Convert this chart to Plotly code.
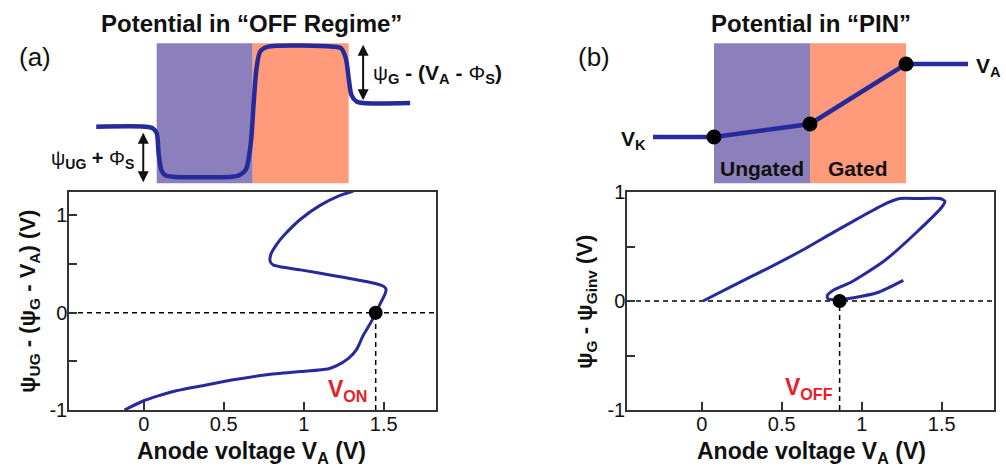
import plotly.graph_objects as go

# ---------------- data ----------------
# (a) psi_UG - (psi_G - V_A) vs anode voltage
va_a = [-0.12, 0.0, 0.09, 0.185, 0.35, 0.56, 0.77, 0.98, 1.15, 1.20, 1.28, 1.33, 1.37, 1.42, 1.45,
        1.49, 1.51, 1.515, 1.50, 1.47, 1.39, 1.19, 0.98, 0.86, 0.81, 0.79, 0.795, 0.83, 0.88, 0.98,
        1.10, 1.22, 1.31]
psi_a = [-1.0, -0.905, -0.855, -0.81, -0.756, -0.69, -0.638, -0.605, -0.578, -0.55, -0.47, -0.38,
         -0.24, -0.1, 0.0, 0.13, 0.2, 0.24, 0.27, 0.29, 0.32, 0.38, 0.44, 0.47, 0.49, 0.53, 0.60,
         0.70, 0.80, 0.96, 1.10, 1.20, 1.25]
v_on = 1.45

# (b) psi_G - psi_Ginv vs anode voltage
va_b = [0.008, 0.2, 0.41, 0.62, 0.82, 1.03, 1.16, 1.24, 1.35, 1.49, 1.52, 1.50, 1.35, 1.14, 0.93,
        0.83, 0.785, 0.79, 0.82, 0.87, 0.95, 1.10, 1.26]
psi_b = [0.0, 0.144, 0.297, 0.459, 0.627, 0.80, 0.90, 0.94, 0.94, 0.94, 0.915, 0.86, 0.64, 0.367,
         0.17, 0.105, 0.05, 0.02, 0.012, 0.015, 0.03, 0.078, 0.19]
v_off = 0.862

# schematic potentials (position in region units: ungated 0-1, gated 1-2)
pos_off = [-0.63, -0.12, -0.04, 0.0, 0.02, 0.05, 0.09, 0.17, 0.78, 0.86, 0.93, 0.98, 1.01, 1.04,
           1.08, 1.16, 1.84, 1.92, 1.97, 2.0, 2.03, 2.08, 2.15, 2.64]
pot_off = [0.566, 0.566, 0.55, 0.50, 0.30, 0.13, 0.08, 0.066, 0.066, 0.08, 0.14, 0.40, 0.80, 1.15,
           1.32, 1.366, 1.366, 1.35, 1.25, 1.05, 0.88, 0.82, 0.803, 0.803]
pos_pin = [-0.635, 0.0, 1.0, 2.0, 2.646]
pot_pin = [0.463, 0.463, 0.593, 1.193, 1.193]
pin_nodes = [1, 2, 3]
region_edges = [0.0, 1.0, 2.0]
region_height = 1.4

x_ticks = [0, 0.5, 1, 1.5]
x_ticktext = ["0", "0.5", "1", "1.5"]
y_ticks = [-1, 0, 1]
y_ticktext = ["-1", "0", "1"]
y_minor_ticks = [-0.5, 0.5]

# ---------------- style ----------------
W, H = 1006, 468
BLUE = "#262A9B"
PURPLE = "#8B7FBC"
ORANGE = "#FF9A7B"
RED = "#E8202A"
FONT = "Liberation Sans, Arial, sans-serif"


def px(x):
    return x / W


def py(y):
    return 1 - y / H


fig = go.Figure()

# bottom curves
fig.add_trace(go.Scatter(x=va_a, y=psi_a, mode="lines", line=dict(color=BLUE, width=3, shape="spline", smoothing=0.6),
                         xaxis="x", yaxis="y", hoverinfo="skip"))
fig.add_trace(go.Scatter(x=[v_on], y=[0], mode="markers", marker=dict(color="black", size=14),
                         xaxis="x", yaxis="y", hoverinfo="skip"))
fig.add_trace(go.Scatter(x=va_b, y=psi_b, mode="lines", line=dict(color=BLUE, width=3, shape="spline", smoothing=0.6),
                         xaxis="x2", yaxis="y2", hoverinfo="skip"))
fig.add_trace(go.Scatter(x=[v_off], y=[0], mode="markers", marker=dict(color="black", size=14),
                         xaxis="x2", yaxis="y2", hoverinfo="skip"))

# schematics
fig.add_trace(go.Scatter(x=pos_off, y=pot_off, mode="lines", line=dict(color=BLUE, width=4.5, shape="spline", smoothing=0.8),
                         xaxis="x3", yaxis="y3", hoverinfo="skip"))
fig.add_trace(go.Scatter(x=pos_pin, y=pot_pin, mode="lines", line=dict(color=BLUE, width=4.5),
                         xaxis="x4", yaxis="y4", hoverinfo="skip"))
fig.add_trace(go.Scatter(x=[pos_pin[i] for i in pin_nodes], y=[pot_pin[i] for i in pin_nodes], mode="markers",
                         marker=dict(color="black", size=15), xaxis="x4", yaxis="y4", hoverinfo="skip"))

shapes = []
for xr, yr in (("x3", "y3"), ("x4", "y4")):
    shapes.append(dict(type="rect", xref=xr, yref=yr, x0=region_edges[0], x1=region_edges[1], y0=0, y1=region_height,
                       fillcolor=PURPLE, line=dict(width=0), layer="below"))
    shapes.append(dict(type="rect", xref=xr, yref=yr, x0=region_edges[1], x1=region_edges[2], y0=0, y1=region_height,
                       fillcolor=ORANGE, line=dict(width=0), layer="below"))

dash = dict(color="black", width=1.5, dash="5px,4px")
for xr, yr, v in (("x", "y", v_on), ("x2", "y2", v_off)):
    shapes.append(dict(type="line", xref=xr + " domain", yref=yr, x0=0, x1=1, y0=0, y1=0, line=dash, layer="below"))
    shapes.append(dict(type="line", xref=xr, yref=yr, x0=v, x1=v, y0=-1, y1=0, line=dash, layer="below"))

TXT = "#111"
ann = []
ann.append(dict(text="<b>Potential in “OFF Regime”</b>", x=px(252), y=py(23), xref="paper", yref="paper",
                showarrow=False, font=dict(size=24, color=TXT), xanchor="center", yanchor="middle"))
ann.append(dict(text="<b>Potential in “PIN”</b>", x=px(811), y=py(23), xref="paper", yref="paper",
                showarrow=False, font=dict(size=24, color=TXT), xanchor="center", yanchor="middle"))
ann.append(dict(text="(a)", x=px(35), y=py(57), xref="paper", yref="paper", showarrow=False,
                font=dict(size=26, color=TXT), xanchor="center", yanchor="middle"))
ann.append(dict(text="(b)", x=px(594), y=py(57), xref="paper", yref="paper", showarrow=False,
                font=dict(size=26, color=TXT), xanchor="center", yanchor="middle"))

# axis titles
ann.append(dict(text="<b>Anode voltage V<sub>A</sub> (V)</b>", x=px(252), y=py(452), xref="paper", yref="paper",
                showarrow=False, font=dict(size=23, color=TXT), xanchor="center", yanchor="middle"))
ann.append(dict(text="<b>Anode voltage V<sub>A</sub> (V)</b>", x=px(811), y=py(452), xref="paper", yref="paper",
                showarrow=False, font=dict(size=23, color=TXT), xanchor="center", yanchor="middle"))
ann.append(dict(text="<b>ψ<sub>UG</sub> - (ψ<sub>G</sub> - V<sub>A</sub>) (V)</b>", x=px(29), y=py(302),
                xref="paper", yref="paper", showarrow=False, textangle=-90, font=dict(size=22, color=TXT),
                xanchor="center", yanchor="middle"))
ann.append(dict(text="<b>ψ<sub>G</sub> - ψ<sub>Ginv</sub> (V)</b>", x=px(586), y=py(302),
                xref="paper", yref="paper", showarrow=False, textangle=-90, font=dict(size=22, color=TXT),
                xanchor="center", yanchor="middle"))

# arrows in (a) schematic
ann.append(dict(x=-0.14, y=0.01, ax=-0.14, ay=0.52, xref="x3", yref="y3", axref="x3", ayref="y3", text="",
                showarrow=True, arrowhead=2, arrowside="end+start", arrowsize=1.1, arrowwidth=2, arrowcolor=TXT,
                standoff=0, startstandoff=0))
ann.append(dict(x=2.15, y=0.83, ax=2.15, ay=1.40, xref="x3", yref="y3", axref="x3", ayref="y3", text="",
                showarrow=True, arrowhead=2, arrowside="end+start", arrowsize=1.1, arrowwidth=2, arrowcolor=TXT,
                standoff=0, startstandoff=0))
ann.append(dict(text="ψ<sub><b>UG</b></sub><b> + </b>Φ<sub><b>S</b></sub>", x=-0.22, y=0.24, xref="x3", yref="y3",
                showarrow=False, xanchor="right", yanchor="middle", font=dict(size=20, color=TXT)))
ann.append(dict(text="ψ<sub><b>G</b></sub><b> - (V<sub>A</sub> - </b>Φ<sub><b>S</b></sub><b>)</b>", x=2.23, y=1.09,
                xref="x3", yref="y3", showarrow=False, xanchor="left", yanchor="middle",
                font=dict(size=21, color=TXT)))

# (b) schematic labels
ann.append(dict(text="<b>V<sub>K</sub></b>", x=pos_pin[0] - 0.05, y=pot_pin[0] - 0.03, xref="x4", yref="y4",
                showarrow=False, xanchor="right", yanchor="middle", font=dict(size=21, color=TXT)))
ann.append(dict(text="<b>V<sub>A</sub></b>", x=pos_pin[-1] + 0.06, y=pot_pin[-1] - 0.03, xref="x4", yref="y4",
                showarrow=False, xanchor="left", yanchor="middle", font=dict(size=21, color=TXT)))
ann.append(dict(text="<b>Ungated</b>", x=0.5, y=0.15, xref="x4", yref="y4", showarrow=False,
                font=dict(size=21, color=TXT)))
ann.append(dict(text="<b>Gated</b>", x=1.5, y=0.15, xref="x4", yref="y4", showarrow=False,
                font=dict(size=21, color=TXT)))

# V_ON / V_OFF labels
ann.append(dict(text="<b>V<sub>ON</sub></b>", x=v_on - 0.04, y=-0.8, xref="x", yref="y", showarrow=False,
                xanchor="right", yanchor="middle", font=dict(size=23, color=RED)))
ann.append(dict(text="<b>V<sub>OFF</sub></b>", x=v_off - 0.03, y=-0.8, xref="x2", yref="y2", showarrow=False,
                xanchor="right", yanchor="middle", font=dict(size=23, color=RED)))

x_common = dict(range=[-0.467, 1.827], tickvals=x_ticks, ticktext=x_ticktext, ticks="inside", ticklen=8,
                tickwidth=1.5, tickcolor="#333", showline=True, linecolor="#333", linewidth=1.5, mirror=True,
                showgrid=False, zeroline=False, tickfont=dict(size=20, color=TXT), ticklabelstandoff=-5,
                automargin=False)
y_common = dict(tickvals=y_ticks, ticktext=y_ticktext, ticks="inside", ticklen=8, tickwidth=1.5, tickcolor="#333",
                minor=dict(tickvals=y_minor_ticks, ticks="inside", ticklen=8, tickwidth=1.5, tickcolor="#333",
                           showgrid=False),
                showline=True, linecolor="#333", linewidth=1.5, mirror=True, showgrid=False, zeroline=False,
                tickfont=dict(size=20, color=TXT), ticklabelstandoff=-4, automargin=False)

hidden = dict(visible=False, showgrid=False, zeroline=False, fixedrange=True, automargin=False)

fig.update_layout(
    width=W, height=H, margin=dict(l=0, r=0, t=0, b=0, autoexpand=False),
    paper_bgcolor="white", plot_bgcolor="rgba(0,0,0,0)",
    font=dict(family=FONT, color=TXT),
    showlegend=False,
    xaxis=dict(domain=[px(69), px(436)], anchor="y", **x_common),
    yaxis=dict(domain=[py(410), py(192)], anchor="x", range=[-1, 1.24], **y_common),
    xaxis2=dict(domain=[px(627), px(994)], anchor="y2", **x_common),
    yaxis2=dict(domain=[py(410), py(192)], anchor="x2", range=[-1, 1], **y_common),
    xaxis3=dict(domain=[0, px(500)], anchor="y3", range=[-156.7 / 96, (500 - 156.7) / 96], **hidden),
    yaxis3=dict(domain=[py(190), py(30)], anchor="x3", range=[-0.067, 1.533], **hidden),
    xaxis4=dict(domain=[px(500), 1], anchor="y4", range=[(500 - 714) / 96, (1006 - 714) / 96], **hidden),
    yaxis4=dict(domain=[py(190), py(30)], anchor="x4", range=[-0.067, 1.533], **hidden),
    shapes=shapes,
    annotations=ann,
)

fig.write_html("out.html", config={"displayModeBar": False},
               post_script="document.body.style.margin='0';document.body.style.overflow='hidden';")
